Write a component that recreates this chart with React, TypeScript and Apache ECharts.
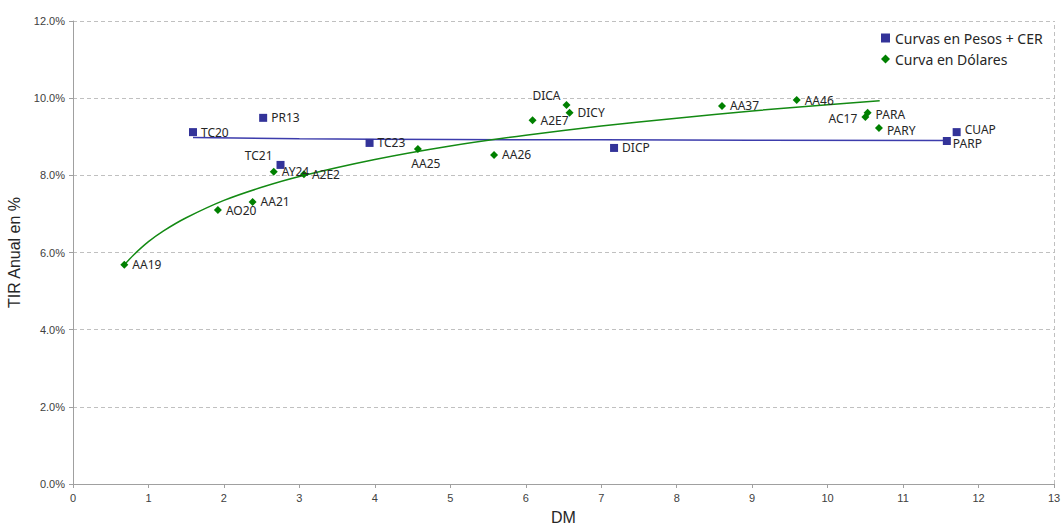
import React, { useEffect, useRef } from "react";
import * as echarts from "echarts";

// Curvas en Pesos + CER
const pesosNames = ["TC20", "PR13", "TC21", "TC23", "DICP", "PARP", "CUAP"];
const pesosDM = [1.59, 2.52, 2.75, 3.93, 7.17, 11.58, 11.71];
const pesosTIR = [9.12, 9.49, 8.27, 8.84, 8.71, 8.89, 9.12];

// Curva en Dólares
const usdNames = ["AA19", "AO20", "AA21", "AY24", "A2E2", "AA25", "AA26", "A2E7", "DICA", "DICY", "AA37", "AA46", "AC17", "PARA", "PARY"];
const usdDM = [0.68, 1.92, 2.38, 2.66, 3.06, 4.57, 5.58, 6.09, 6.54, 6.58, 8.6, 9.59, 10.5, 10.53, 10.68];
const usdTIR = [5.68, 7.1, 7.31, 8.09, 8.03, 8.68, 8.53, 9.43, 9.82, 9.62, 9.8, 9.95, 9.51, 9.62, 9.23];

// Trend lines
const pesosTrendX = [1.59, 3, 5, 7, 9, 11.58];
const pesosTrendY = [8.98, 8.95, 8.93, 8.92, 8.91, 8.9];
const usdTrendX = [0.68, 0.8, 1, 1.2, 1.5, 2, 2.5, 3, 4, 5, 6, 7, 8, 9, 10, 10.69];
const usdTrendY = [5.68, 5.93, 6.28, 6.56, 6.9, 7.35, 7.69, 7.97, 8.41, 8.76, 9.04, 9.28, 9.48, 9.67, 9.83, 9.93];

const xTicks = [0, 13, 1];
const yTicks = [0, 12, 2];

const labelFont = "Noto Sans";

const labelOverrides: Record<string, any> = {
  TC21: { position: "left", offset: [0, -9] },
  DICA: { position: "left", offset: [2, -10] },
  AA25: { position: "bottom", offset: [8, 1] },
  AC17: { position: "left", offset: [0, 1] },
  PARA: { position: "right", offset: [0, 2] },
  PARY: { position: "right", offset: [0, 3] },
  CUAP: { position: "right", offset: [0, -3] },
  PARP: { position: "right", offset: [-2, 3] },
};

export default function App() {
  const ref = useRef<HTMLDivElement>(null);
  useEffect(() => {
    if (!ref.current) return;
    const chart = echarts.init(ref.current, undefined, { renderer: "svg" });
    const mk = (names: string[], xs: number[], ys: number[]) =>
      names.map((n, i) => ({
        name: n,
        value: [xs[i], ys[i]],
        label: labelOverrides[n] ? { ...labelOverrides[n] } : undefined,
      }));
    const baseLabel = {
      show: true,
      formatter: "{b}",
      position: "right",
      distance: 4,
      fontSize: 12,
      lineHeight: 11,
      fontFamily: labelFont,
      color: "#262626",
    };
    chart.setOption({
      animation: false,
      backgroundColor: "#ffffff",
      grid: { left: 73, right: 8, top: 21, bottom: 43, containLabel: false, outerBoundsMode: "none" },
      legend: {
        orient: "vertical",
        left: 876,
        top: 26,
        itemGap: 7,
        itemWidth: 9,
        itemHeight: 9,
        textStyle: { fontSize: 14, fontFamily: labelFont, color: "#262626" },
        data: [
          { name: "Curvas en Pesos + CER", icon: "rect", itemStyle: { color: "#333399", opacity: 1 } },
          { name: "Curva en Dólares", icon: "diamond", itemStyle: { color: "#008000", opacity: 1 } },
        ],
      },
      xAxis: {
        type: "value",
        min: xTicks[0],
        max: xTicks[1],
        interval: xTicks[2],
        name: "DM",
        nameLocation: "middle",
        nameGap: 25,
        nameTextStyle: { fontSize: 16, fontFamily: "Liberation Sans", color: "#262626" },
        axisLine: { lineStyle: { color: "#a0a0a0" } },
        axisTick: { show: true, length: 4, lineStyle: { color: "#a0a0a0" } },
        axisLabel: { fontSize: 11, fontFamily: "Liberation Sans", color: "#404040", margin: 8 },
        splitLine: { show: false },
      },
      yAxis: {
        type: "value",
        min: yTicks[0],
        max: yTicks[1],
        interval: yTicks[2],
        name: "TIR Anual en %",
        nameLocation: "middle",
        nameGap: 46,
        nameTextStyle: { fontSize: 16, fontFamily: "Liberation Sans", color: "#262626" },
        axisLine: { show: true, lineStyle: { color: "#a0a0a0" } },
        axisTick: { show: true, length: 4, lineStyle: { color: "#a0a0a0" } },
        axisLabel: {
          fontSize: 11,
          fontFamily: "Liberation Sans",
          color: "#404040",
          margin: 8,
          formatter: (v: number) => v.toFixed(1) + "%",
        },
        splitLine: { show: true, lineStyle: { color: "#c0c0c0", type: [4, 3] } },
      },
      series: [
        {
          name: "Curvas en Pesos + CER",
          type: "line",
          data: pesosTrendX.map((x, i) => [x, pesosTrendY[i]]),
          showSymbol: false,
          smooth: true,
          lineStyle: { color: "#3c3cac", width: 1.5 },
          itemStyle: { color: "#333399" },
          silent: true,
          z: 1,
          markLine: {
            silent: true,
            symbol: "none",
            label: { show: false },
            lineStyle: { color: "#c0c0c0", type: [4, 3], width: 1 },
            data: [{ xAxis: 13 }],
          },
        },
        {
          name: "Curva en Dólares",
          type: "line",
          data: usdTrendX.map((x, i) => [x, usdTrendY[i]]),
          showSymbol: false,
          smooth: 0.3,
          lineStyle: { color: "#138a13", width: 1.5 },
          itemStyle: { color: "#008000" },
          silent: true,
          z: 1,
        },
        {
          name: "Curvas en Pesos + CER",
          type: "scatter",
          symbol: "rect",
          symbolSize: 8,
          itemStyle: { color: "#333399", opacity: 1 },
          label: baseLabel,
          data: mk(pesosNames, pesosDM, pesosTIR),
          z: 3,
        },
        {
          name: "Curva en Dólares",
          type: "scatter",
          symbol: "diamond",
          symbolSize: 8,
          itemStyle: { color: "#008000", opacity: 1 },
          label: baseLabel,
          data: mk(usdNames, usdDM, usdTIR),
          z: 3,
        },
      ],
    });
    return () => chart.dispose();
  }, []);
  return <div ref={ref} style={{ width: 1062, height: 527, position: "absolute", left: 0, top: 0 }} />;
}
